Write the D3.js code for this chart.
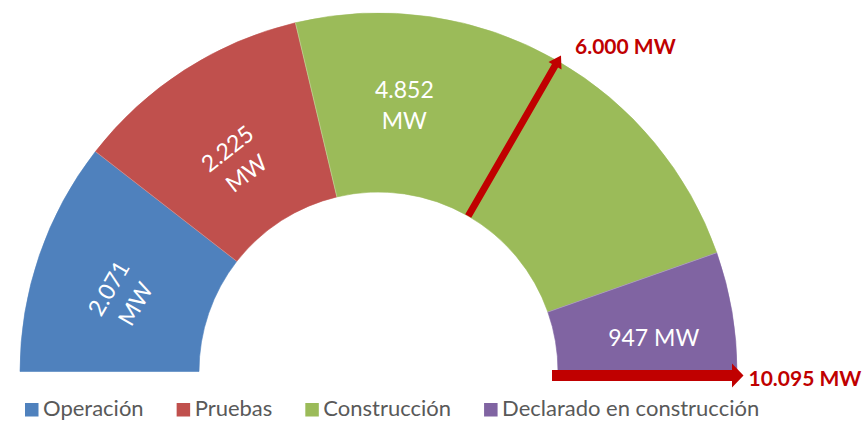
<!DOCTYPE html>
<html>
<head>
<meta charset="utf-8">
<script src="https://cdn.jsdelivr.net/npm/d3@7"></script>
<style>
  html, body { margin: 0; padding: 0; background: #fff; }
  svg { display: block; font-family: Lato, "Open Sans", sans-serif; }
</style>
</head>
<body>
<svg id="chart" width="866" height="421"></svg>
<script>
// ---- data ----
const categories = ["Operación", "Pruebas", "Construcción", "Declarado en construcción"];
// values printed in the labels (MW)
const values = [2071, 2225, 4852, 947];
// arc sizes as drawn in the picture (MW-equivalent); Construcción is drawn in two parts,
// the 6.000 MW marker sits on the split between them
const arcCategory = [0, 1, 2, 2, 3];
const arcSizes = [2123, 2173, 2434, 2280, 1085];
const arcLabelled = [true, true, true, false, true];
const markerLabels = ["6.000 MW", "10.095 MW"];
const colors = ["#4F81BD", "#C0504D", "#9BBB59", "#8064A2"];

// ---- layout ----
const cx = 378.5, cy = 371.5;
const rOuter = 358.5, rInner = 179.5;
const arrowColor = "#C00000";

const svg = d3.select("#chart");
const es = d3.formatLocale({decimal: ",", thousands: ".", grouping: [3], currency: ["", "€"]});
const fmt = es.format(",d");

const slices = arcSizes.map((v, i) => ({cat: arcCategory[i], value: v, label: arcLabelled[i]}));
const drawnTotal = d3.sum(arcSizes);

const pie = d3.pie().sort(null).value(d => d.value)
  .startAngle(-Math.PI / 2).endAngle(Math.PI / 2);
const arc = d3.arc().innerRadius(rInner).outerRadius(rOuter);
const angle = d3.scaleLinear().domain([0, drawnTotal]).range([-Math.PI / 2, Math.PI / 2]);

const g = svg.append("g").attr("transform", `translate(${cx},${cy})`);
const arcs = pie(slices);

g.selectAll("path.slice").data(arcs).join("path")
  .attr("class", "slice")
  .attr("d", arc)
  .attr("fill", d => colors[d.data.cat])
  .attr("stroke", d => colors[d.data.cat])
  .attr("stroke-width", 0.6);

// thin seams between categories
g.selectAll("line.seam").data(arcs.slice(1).filter(d => d.data.cat !== arcs[d.index - 1].data.cat))
  .join("line")
  .attr("x1", d => rInner * Math.sin(d.startAngle))
  .attr("y1", d => -rInner * Math.cos(d.startAngle))
  .attr("x2", d => rOuter * Math.sin(d.startAngle))
  .attr("y2", d => -rOuter * Math.cos(d.startAngle))
  .attr("stroke", "#ffffff").attr("stroke-opacity", 0.4).attr("stroke-width", 0.7);

// ---- slice labels ----
const labelStyle = {
  0: {rot: -60, dx: -2, dy: 11.7, wrap: true},
  1: {rot: -38, dx: 4, dy: 15.6, wrap: true},
  2: {rot: 0, dx: -13, dy: 0, wrap: true},
  3: {rot: 0, dx: 10, dy: 11, wrap: false}
};
const labelR = (rInner + rOuter) / 2;
const fs = 23, lh = 31, cap = 0.72 * fs;
arcs.filter(d => d.data.label).forEach(d => {
  const st = labelStyle[d.data.cat];
  const mid = (d.startAngle + d.endAngle) / 2;
  const x = labelR * Math.sin(mid) + st.dx;
  const y = -labelR * Math.cos(mid) + st.dy;
  const num = fmt(values[d.data.cat]);
  const lines = st.wrap ? [num, "MW"] : [num + " MW"];
  const t = g.append("g").attr("transform", `translate(${x},${y}) rotate(${st.rot})`)
    .append("text")
    .attr("text-anchor", "middle")
    .attr("fill", "#ffffff")
    .attr("font-size", fs);
  lines.forEach((ln, k) => {
    const off = (k - (lines.length - 1) / 2) * lh + cap / 2;
    t.append("tspan").attr("x", 0).attr("y", off).text(ln);
  });
});

// ---- arrows ----
function arrowPoly(x1, y1, x2, y2, thick, headLen, headHalf) {
  const L = Math.hypot(x2 - x1, y2 - y1);
  const ux = (x2 - x1) / L, uy = (y2 - y1) / L;
  const px = -uy, py = ux;
  const bx = x2 - ux * headLen, by = y2 - uy * headLen;
  const t = thick / 2;
  return [
    [x1 + px * t, y1 + py * t],
    [bx + px * t, by + py * t],
    [bx + px * headHalf, by + py * headHalf],
    [x2, y2],
    [bx - px * headHalf, by - py * headHalf],
    [bx - px * t, by - py * t],
    [x1 - px * t, y1 - py * t]
  ];
}
const line = d3.line();

// 6.000 MW marker at the construction split
const splitVal = d3.sum(arcSizes.slice(0, 3));
const a1 = angle(splitVal);
const tipR = rOuter + 6.5;
const p1 = [rInner * Math.sin(a1), -rInner * Math.cos(a1)];
const p2 = [tipR * Math.sin(a1), -tipR * Math.cos(a1)];
g.append("path")
  .attr("d", line(arrowPoly(p1[0], p1[1], p2[0], p2[1], 7, 12, 7.5)) + "Z")
  .attr("fill", arrowColor);
g.append("text")
  .attr("x", p2[0] + 14).attr("y", p2[1] - 1)
  .attr("fill", arrowColor).attr("font-weight", "bold").attr("font-size", 21)
  .text(markerLabels[0]);

// 10.095 MW total arrow along the bottom
const a2 = angle(drawnTotal);
const q1 = [(rInner - 6) * Math.sin(a2), 4];
const q2 = [tipR * Math.sin(a2), 4];
g.append("path")
  .attr("d", line(arrowPoly(q1[0], q1[1], q2[0], q2[1], 11, 11.5, 12)) + "Z")
  .attr("fill", arrowColor);
g.append("text")
  .attr("x", q2[0] + 5).attr("y", q2[1] + 10.5)
  .attr("fill", arrowColor).attr("font-weight", "bold").attr("font-size", 21)
  .text(markerLabels[1]);

// ---- legend ----
const legend = svg.append("g").attr("transform", "translate(25,0)");
let lx = 0;
categories.forEach((c, i) => {
  legend.append("rect")
    .attr("x", lx).attr("y", 403).attr("width", 13.5).attr("height", 13.5)
    .attr("fill", colors[i]);
  const t = legend.append("text")
    .attr("x", lx + 18).attr("y", 416.3)
    .attr("fill", "#595959").attr("font-size", 22)
    .text(c);
  lx += 18 + t.node().getComputedTextLength() + 33;
});
</script>
</body>
</html>
